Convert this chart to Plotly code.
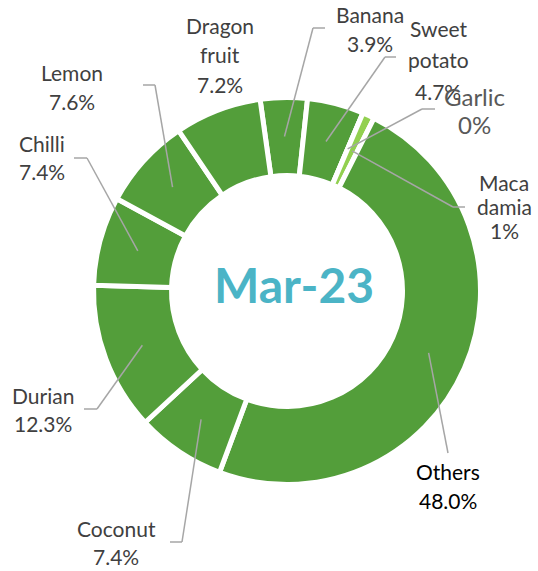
import math
import plotly.graph_objects as go

W, H = 538, 571

# ---------------- data ----------------
categories = ["Banana", "Sweet potato", "Garlic", "Macadamia", "Others",
              "Coconut", "Durian", "Chilli", "Lemon", "Dragon fruit"]
shares = [3.9, 4.7, 0.0, 1.0, 48.0, 7.4, 12.3, 7.4, 7.6, 7.2]
share_text = ["3.9%", "4.7%", "0%", "1%", "48.0%", "7.4%", "12.3%", "7.4%", "7.6%", "7.2%"]
label_names = [["Banana"], ["Sweet", "potato"], ["Garlic"], ["Maca", "damia"], ["Others"],
               ["Coconut"], ["Durian"], ["Chilli"], ["Lemon"], ["Dragon", "fruit"]]
center_label = "Mar-23"

# ---------------- style / layout ----------------
GREEN = "#539E3A"
LIGHT_GREEN = "#92D050"
slice_colors = [LIGHT_GREEN if c == "Macadamia" else GREEN for c in categories]

CX, CY = 287.0, 291.0      # ring centre (px)
R_OUT, R_IN = 191.0, 118.0
BORDER = 5.0
ROT = -8.0

FONT = "Lato"
TXT = "#404040"
FS = 21

# label placement: centre x, centre y of first line, line spacing, font size, colour
label_style = {
    "Banana":       (370, 14, 30, FS, TXT),
    "Sweet potato": (438, 29, 31, FS, TXT),
    "Garlic":       (474, 96, 29, 24, "#595959"),
    "Macadamia":    (504, 182, 24.5, FS, TXT),
    "Others":       (448, 471, 29, FS, "#000000"),
    "Coconut":      (116, 528, 28, FS, TXT),
    "Durian":       (43, 395, 28, FS, TXT),
    "Chilli":       (42, 143, 29, FS, TXT),
    "Lemon":        (72, 72, 29, FS, TXT),
    "Dragon fruit": (220, 25, 29.5, FS, TXT),
}
# leader line waypoints (px) from label side toward the slice
leader_pts = {
    "Banana":       [(325, 28), (313, 28)],
    "Sweet potato": [(396, 57), (385, 57)],
    "Garlic":       [(435, 109), (422, 109)],
    "Macadamia":    [(465, 207), (453, 207)],
    "Others":       [(448, 453)],
    "Coconut":      [(170, 542), (182, 542)],
    "Durian":       [(84, 409), (97, 409)],
    "Chilli":       [(74, 158), (87, 158)],
    "Lemon":        [(143, 85), (155, 85)],
}


def px(x):
    return x / W


def py(y):
    return 1 - y / H


R_DOM = R_OUT + BORDER / 2
hole = (R_IN - BORDER / 2) / R_DOM

fig = go.Figure()
fig.add_trace(go.Pie(
    labels=categories,
    values=shares,
    sort=False,
    direction="clockwise",
    rotation=ROT,
    hole=hole,
    textinfo="none",
    hoverinfo="label+percent",
    marker=dict(colors=slice_colors, line=dict(color="white", width=BORDER)),
    domain=dict(x=[px(CX - R_DOM), px(CX + R_DOM)],
                y=[py(CY + R_DOM), py(CY - R_DOM)]),
    showlegend=False,
))

# anchor points of leader lines derived from data (mid-angle, mid-radius)
total = sum(shares)
RM = (R_OUT + R_IN) / 2
anchors = {}
cum = 0.0
for c, v in zip(categories, shares):
    a = math.radians(ROT + 360.0 * (cum + v / 2) / total)
    anchors[c] = (CX + RM * math.sin(a), CY - RM * math.cos(a))
    cum += v

shapes = []
for c, pts in leader_pts.items():
    seq = pts + [anchors[c]]
    for (x0, y0), (x1, y1) in zip(seq[:-1], seq[1:]):
        shapes.append(dict(type="line", xref="paper", yref="paper",
                           x0=px(x0), y0=py(y0), x1=px(x1), y1=py(y1),
                           line=dict(color="#A6A6A6", width=1.5)))

annotations = []
for c, names, pct in zip(categories, label_names, share_text):
    x, y0, sp, fs, col = label_style[c]
    lines = names + [pct]
    for i, t in enumerate(lines):
        annotations.append(dict(
            x=px(x), y=py(y0 + i * sp), xref="paper", yref="paper",
            text=t, showarrow=False, xanchor="center", yanchor="middle",
            font=dict(family=FONT, size=fs, color=col)))

annotations.append(dict(
    x=px(294), y=py(284), xref="paper", yref="paper",
    text="<b>" + center_label + "</b>", showarrow=False,
    xanchor="center", yanchor="middle",
    font=dict(family=FONT, size=48, color="#4BB4C6")))

fig.update_layout(
    width=W, height=H,
    margin=dict(l=0, r=0, t=0, b=0),
    paper_bgcolor="white", plot_bgcolor="white",
    shapes=shapes, annotations=annotations,
)

fig.write_html("out.html",
               config={"displayModeBar": False},
               post_script="document.body.style.margin='0';document.body.style.overflow='hidden';")
